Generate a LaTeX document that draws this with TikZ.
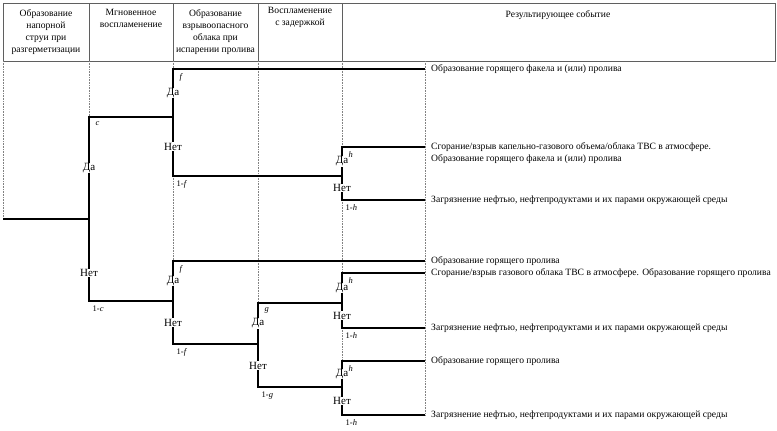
\documentclass[tikz,border=0pt]{standalone}
\usepackage{fontspec}
\setmainfont{Liberation Serif}
\usetikzlibrary{positioning, calc}
\definecolor{framegray}{RGB}{95,95,95}
\definecolor{guidegray}{RGB}{130,130,130}

\begin{document}
\begin{tikzpicture}[x=1pt, y=-1pt,
    branch/.style={line width=1.4pt, black},
    guide/.style={densely dotted, guidegray, line width=0.6pt},
    frame/.style={framegray, line width=0.8pt},
    head/.style={font=\fontsize{9.6}{12.3}\selectfont, align=center, anchor=north, inner sep=0pt},
    answer/.style={fill=white, inner sep=0.6pt, pos=0.25, font=\fontsize{11}{12}\selectfont},
    prob/.style={font=\fontsize{8.5}{10}\selectfont, inner sep=1pt, pos=0.5, anchor=north west},
    yesprob/.style={prob, xshift=5pt, yshift=-2.5pt},
    noprob/.style={prob, xshift=2pt, yshift=-3pt},
    outcome/.style={font=\fontsize{9.6}{12}\selectfont, inner sep=0pt, align=left}]

    \useasboundingbox (0,0) rectangle (777,431);

    \draw[frame] (3,3) rectangle (775,61);
    \foreach \x in {89,173,258,342}
        \draw[frame] (\x,3) -- (\x,61);

    \node[head] (hdrJet) at (46,9) {Образование\\напорной\\струи при\\разгерметизации};
    \node[head] (hdrFlash) at (131,9) {Мгновенное\\воспламенение};
    \node[head] (hdrCloud) at (215.5,9) {Образование\\взрывоопасного\\облака при\\испарении пролива};
    \node[head] (hdrDelay) at (300,7) {Воспламенение\\с задержкой};
    \node[head] (hdrResult) at (558,10) {Результирующее событие};

    \foreach \x/\y in {3/219, 89/117, 173/261, 258/303, 342/361, 425/415}
        \draw[guide] (\x,61) -- (\x,\y);

    \coordinate (start) at (3,219);
    \coordinate (c) at (89,219);
    \coordinate (f1) at (173,117);
    \coordinate (h1) at (342,176);
    \coordinate (f2) at (173,301);
    \coordinate (g) at (258,344);
    \coordinate (h2) at (342,303);
    \coordinate (h3) at (342,387);
    \coordinate (end1) at (425,69);
    \coordinate (end2) at (425,147);
    \coordinate (end3) at (425,200);
    \coordinate (end4) at (425,261);
    \coordinate (end5) at (425,273);
    \coordinate (end6) at (425,328);
    \coordinate (end7) at (425,361);
    \coordinate (end8) at (425,415);

    \draw[branch] (start) -- (c);
    \draw[branch] (c) |- node[answer] {Да} node[yesprob] {\textit{c}} (f1);
    \draw[branch] (c) |- node[answer, pos=0.33] {Нет} node[noprob] {1-\textit{c}} (f2);
    \draw[branch] (f1) |- node[answer] {Да} node[yesprob] {\textit{f}} (end1);
    \draw[branch] (f1) |- node[answer] {Нет} node[noprob] {1-\textit{f}} (h1);
    \draw[branch] (h1) |- node[answer] {Да} node[yesprob] {\textit{h}} (end2);
    \draw[branch] (h1) |- node[answer] {Нет} node[noprob] {1-\textit{h}} (end3);
    \draw[branch] (f2) |- node[answer] {Да} node[yesprob] {\textit{f}} (end4);
    \draw[branch] (f2) |- node[answer] {Нет} node[noprob] {1-\textit{f}} (g);
    \draw[branch] (g) |- node[answer] {Да} node[yesprob] {\textit{g}} (h2);
    \draw[branch] (g) |- node[answer] {Нет} node[noprob] {1-\textit{g}} (h3);
    \draw[branch] (h2) |- node[answer] {Да} node[yesprob] {\textit{h}} (end5);
    \draw[branch] (h2) |- node[answer] {Нет} node[noprob] {1-\textit{h}} (end6);
    \draw[branch] (h3) |- node[answer] {Да} node[yesprob] {\textit{h}} (end7);
    \draw[branch] (h3) |- node[answer] {Нет} node[noprob] {1-\textit{h}} (end8);

    \node[outcome, right=6pt of end1] (res1) {Образование горящего факела и (или) пролива};
    \node[outcome, right=6pt of end2, anchor=north west, yshift=5pt] (res2) {Сгорание/взрыв капельно-газового объема/облака ТВС в атмосфере.\\Образование горящего факела и (или) пролива};
    \node[outcome, right=6pt of end3] (res3) {Загрязнение нефтью, нефтепродуктами и их парами окружающей среды};
    \node[outcome, right=6pt of end4] (res4) {Образование горящего пролива};
    \node[outcome, right=6pt of end5] (res5) {Сгорание/взрыв газового облака ТВС в атмосфере. Образование горящего пролива};
    \node[outcome, right=6pt of end6] (res6) {Загрязнение нефтью, нефтепродуктами и их парами окружающей среды};
    \node[outcome, right=6pt of end7] (res7) {Образование горящего пролива};
    \node[outcome, right=6pt of end8] (res8) {Загрязнение нефтью, нефтепродуктами и их парами окружающей среды};
\end{tikzpicture}
\end{document}
